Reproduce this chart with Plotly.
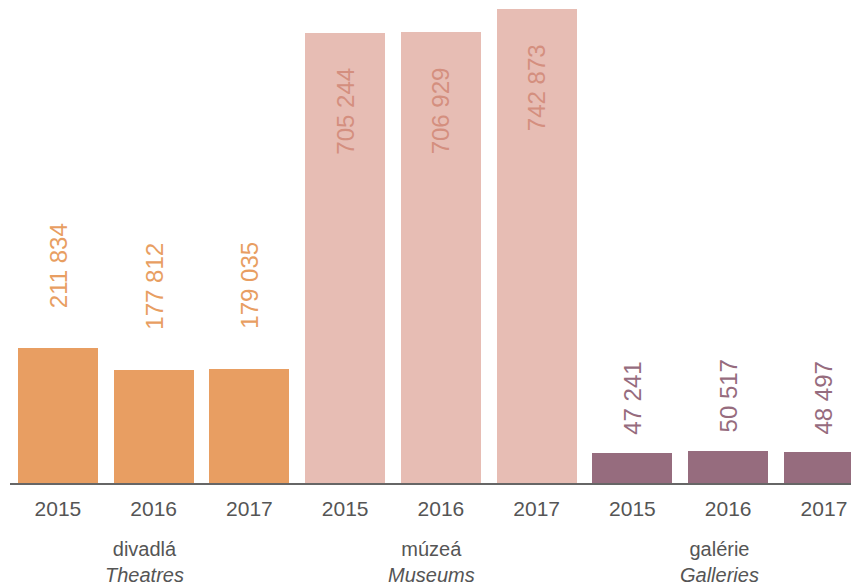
import plotly.graph_objects as go

years = ["2015", "2016", "2017"]
groups_cz = ["divadlá", "múzeá", "galérie"]
groups_en = ["Theatres", "Museums", "Galleries"]
theatres = [211834, 177812, 179035]
museums = [705244, 706929, 742873]
galleries = [47241, 50517, 48497]

series = [theatres, museums, galleries]
bar_colors = ["#E89E62", "#E7BDB4", "#966C7E"]
label_colors = ["#E89E62", "#D48F7F", "#966C7E"]
label_inside = [False, True, False]
label_gap = [38, 33, 16]

FONT = "Liberation Sans, Arial"

def fmt(v):
    return f"{v:,}".replace(",", " ")

fig = go.Figure()
annotations = []
all_vals = [v for s in series for v in s]
tickvals, ticktext = [], []
for g, vals in enumerate(series):
    xs = [g * 3 + i for i in range(3)]
    tickvals += xs
    ticktext += years
    fig.add_trace(go.Bar(x=xs, y=vals, width=0.8355, marker_color=bar_colors[g],
                         marker_line_width=0, showlegend=False, hoverinfo="skip"))
    for x, v in zip(xs, vals):
        annotations.append(dict(
            x=x, y=v, xref="x", yref="y", text=fmt(v), showarrow=False,
            textangle=-90, font=dict(family=FONT, size=24, color=label_colors[g]),
            yanchor="top" if label_inside[g] else "bottom",
            yshift=-label_gap[g] if label_inside[g] else label_gap[g]))
    annotations.append(dict(
        x=g * 3 + 1, y=0, xref="x", yref="paper", xshift=-9, yshift=-53,
        text=f"{groups_cz[g]}<br><i>{groups_en[g]}</i>", showarrow=False, yanchor="top",
        font=dict(family=FONT, size=20, color="#555555")))

# page body adds an 8px offset; figure sized to fill the 859x585 window
ymax = max(all_vals) * 475 / 474
fig.update_layout(
    width=851, height=577,
    margin=dict(l=2, r=0, t=0, b=102),
    plot_bgcolor="white", paper_bgcolor="white",
    bargap=0,
    annotations=annotations,
    xaxis=dict(range=[-0.5, 8.366], tickvals=tickvals, ticktext=ticktext,
               showgrid=False, zeroline=False, showline=True, linecolor="#666666", linewidth=2,
               ticks="outside", ticklen=6, tickcolor="rgba(0,0,0,0)",
               tickfont=dict(family=FONT, size=21, color="#555555")),
    yaxis=dict(range=[0, ymax], visible=False, showgrid=False, zeroline=False),
)
fig.write_html("out.html")
